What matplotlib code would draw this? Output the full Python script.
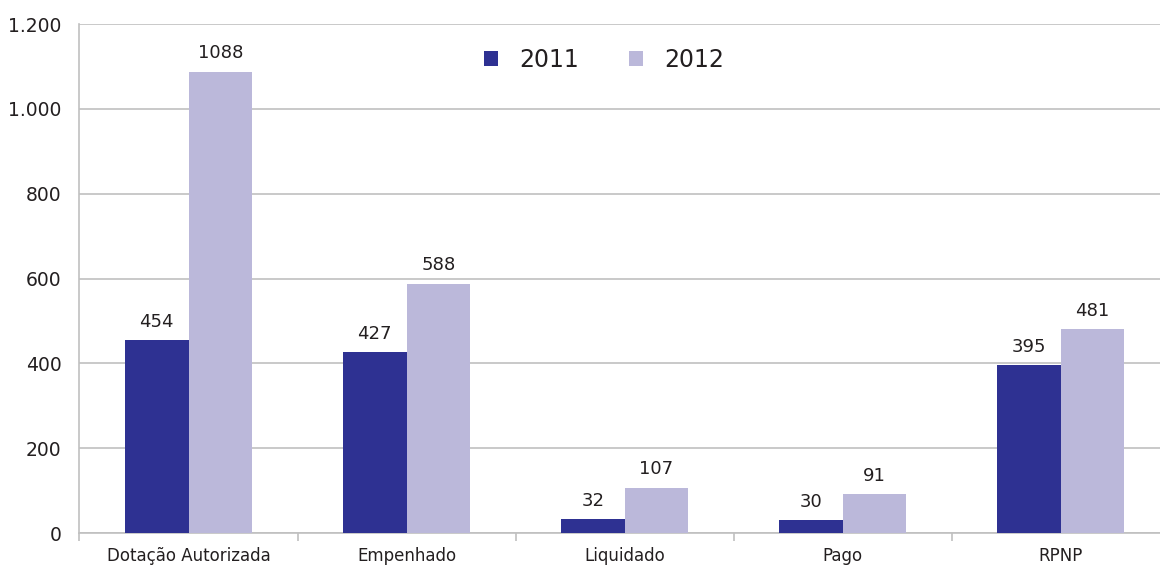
import numpy as np
import matplotlib.pyplot as plt
from matplotlib.ticker import FuncFormatter

# dados do gráfico
categorias = ["Dotação Autorizada", "Empenhado", "Liquidado", "Pago", "RPNP"]
valores_2011 = [454, 427, 32, 30, 395]
valores_2012 = [1088, 588, 107, 91, 481]
anos = ["2011", "2012"]

cor_2011 = "#2E3192"
cor_2012 = "#BBB8DA"
cinza = "#C0C0C0"
texto = "#231F20"

fig = plt.figure(figsize=(11.6, 5.68), dpi=100)
ax = fig.add_axes([0.0685, 0.0616, 0.9400, 0.8961])

x = np.arange(len(categorias))
w = 0.292
b1 = ax.bar(x - w / 2, valores_2011, w, color=cor_2011, label=anos[0], zorder=3)
b2 = ax.bar(x + w / 2, valores_2012, w, color=cor_2012, label=anos[1], zorder=3)

# rótulos de valor
for barras in (b1, b2):
    for r in barras:
        ax.text(r.get_x() + r.get_width() / 2, r.get_height() + 22, str(int(r.get_height())),
                ha="center", va="bottom", fontsize=13, color=texto)

ax.set_ylim(0, 1200)
ax.set_xlim(-0.5, len(categorias) - 0.5)
ax.set_yticks(range(0, 1201, 200))
ax.yaxis.set_major_formatter(FuncFormatter(lambda v, p: f"{int(v):,}".replace(",", ".")))
ax.grid(axis="y", color=cinza, linewidth=1.2, zorder=0)

ax.set_xticks(x)
ax.set_xticklabels(categorias, fontsize=12, color=texto)
ax.set_xticks(np.arange(-0.5, len(categorias)), minor=True)
ax.tick_params(axis="x", which="major", length=0, pad=10)
ax.tick_params(axis="x", which="minor", length=6, color=cinza, width=1.2)
ax.tick_params(axis="y", length=0, labelsize=13.5, labelcolor=texto, pad=13)

for s in ["top", "right"]:
    ax.spines[s].set_visible(False)
for s in ["left", "bottom"]:
    ax.spines[s].set_color(cinza)
    ax.spines[s].set_linewidth(1.2)

fig.legend(loc="center", bbox_to_anchor=(604 / 1160, 1 - 60 / 568), ncol=2, frameon=False,
           fontsize=17, handlelength=0.6, handleheight=0.6, columnspacing=2.1, handletextpad=0.9,
           labelcolor=texto, handles=[b1, b2])

fig.savefig("out.png", dpi=100)
